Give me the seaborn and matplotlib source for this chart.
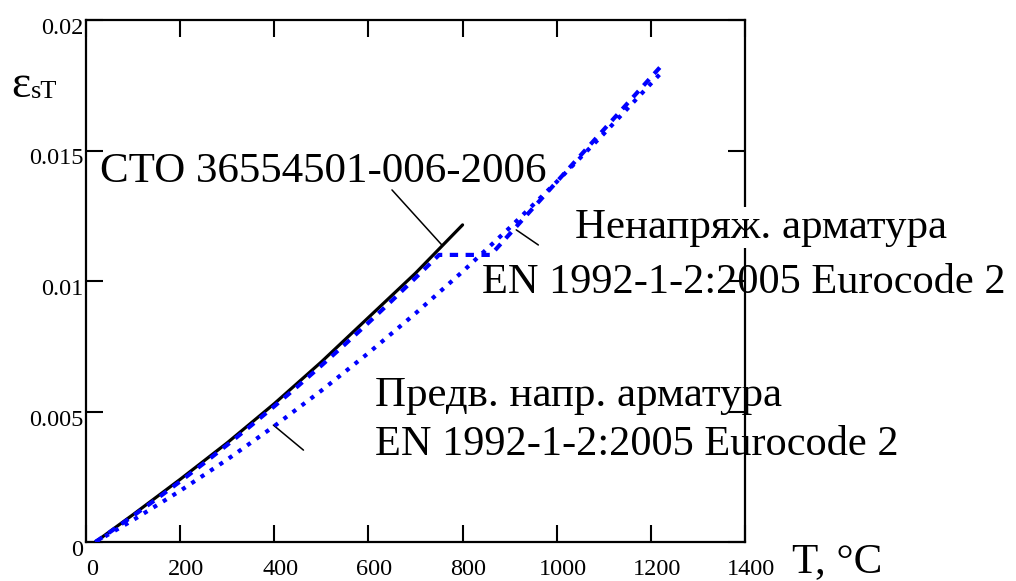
import numpy as np
import pandas as pd
import matplotlib
matplotlib.use("Agg")
import matplotlib.pyplot as plt
import matplotlib.transforms as mtransforms
import seaborn as sns

# ---------------- data ----------------
T_sto = [20, 100, 200, 300, 400, 500, 600, 700, 800]
eps_sto = [0.0, 0.00105, 0.0024, 0.0038, 0.0053, 0.0069, 0.0086, 0.0103, 0.01215]

T_reinf = [20, 50, 100, 150, 200, 250, 300, 350, 400, 450, 500, 550, 600, 650, 700,
           750, 860, 900, 1000, 1100, 1200, 1220]
eps_reinf = [0.0, 0.00037, 0.00100, 0.00165, 0.00232, 0.00301, 0.00372, 0.00445,
             0.00520, 0.00597, 0.00676, 0.00757, 0.00840, 0.00925, 0.01012,
             0.01100, 0.01100, 0.01180, 0.01380, 0.01580, 0.01780, 0.01820]

T_prest = [20, 100, 200, 300, 400, 500, 600, 700, 800, 900, 1000, 1100, 1200, 1220]
eps_prest = [0.0, 0.00084, 0.00196, 0.00316, 0.00444, 0.00580, 0.00724, 0.00876,
             0.01036, 0.01204, 0.01380, 0.01564, 0.01756, 0.01794]

x_ticks = [0, 200, 400, 600, 800, 1000, 1200, 1400]
x_tick_labels = ["0", "200", "400", "600", "800", "1000", "1200", "1400"]
y_ticks = [0, 0.005, 0.01, 0.015, 0.02]
y_tick_labels = ["0", "0.005", "0.01", "0.015", "0.02"]

label_sto = "СТО 36554501-006-2006"
label_reinf_1 = "Ненапряж. арматура"
label_reinf_2 = "EN 1992-1-2:2005 Eurocode 2"
label_prest_1 = "Предв. напр. арматура"
label_prest_2 = "EN 1992-1-2:2005 Eurocode 2"
x_label = "T, °C"

# leader lines (T, eps) pairs
lead_sto = ([650, 756], [0.01349, 0.01138])
lead_reinf = ([914, 961], [0.01196, 0.01138])
lead_prest = ([398, 462], [0.00448, 0.00352])

# ---------------- style ----------------
sns.set_style("ticks")
plt.rcParams["font.family"] = ["Liberation Serif", "DejaVu Serif"]
plt.rcParams["text.color"] = "black"
plt.rcParams["xtick.color"] = "black"
plt.rcParams["ytick.color"] = "black"

W, H = 1016, 581
fig = plt.figure(figsize=(W / 100, H / 100), dpi=100)
ax = fig.add_axes([86 / W, 1 - 542 / H, (745 - 86) / W, (542 - 20) / H])

df_sto = pd.DataFrame({"T": T_sto, "eps": eps_sto})
df_reinf = pd.DataFrame({"T": T_reinf, "eps": eps_reinf})
df_prest = pd.DataFrame({"T": T_prest, "eps": eps_prest})

sns.lineplot(data=df_sto, x="T", y="eps", ax=ax, color="black", linewidth=2.3,
             sort=False, estimator=None, zorder=3)
sns.lineplot(data=df_reinf, x="T", y="eps", ax=ax, color="#0000ff", linewidth=3.0,
             sort=False, estimator=None, dashes=False, zorder=4)
sns.lineplot(data=df_prest, x="T", y="eps", ax=ax, color="#0000ff", linewidth=3.0,
             sort=False, estimator=None, dashes=False, zorder=4)
ax.lines[1].set_dashes((2.0, 1.8))
ax.lines[2].set_dashes((1.0, 1.7))

for lx, ly in (lead_sto, lead_reinf, lead_prest):
    ax.plot(lx, ly, color="black", linewidth=1.1, zorder=2)

ax.set_xlim(0, 1400)
ax.set_ylim(0, 0.02)
ax.set_xticks(x_ticks)
ax.set_xticklabels(x_tick_labels)
ax.set_yticks(y_ticks)
ax.set_yticklabels(y_tick_labels)
ax.set_xlabel("")
ax.set_ylabel("")

for s in ax.spines.values():
    s.set_visible(True)
    s.set_linewidth(1.6)
    s.set_color("black")

ax.tick_params(axis="both", which="major", direction="in", length=12, width=1.5,
               top=True, right=True, labelsize=17.5, colors="black")
ax.tick_params(axis="x", pad=12)
ax.tick_params(axis="y", pad=2)

offx = mtransforms.ScaledTranslation(0.06, 0, fig.dpi_scale_trans)
offy = mtransforms.ScaledTranslation(0, -0.06, fig.dpi_scale_trans)
for lab in ax.get_xticklabels():
    lab.set_transform(lab.get_transform() + offx)
    lab.set_color("black")
for lab in ax.get_yticklabels():
    lab.set_transform(lab.get_transform() + offy)
    lab.set_color("black")

def ftext(x, y, s, size, **kw):
    fig.text(x / W, 1 - y / H, s, fontsize=size, ha="left", va="baseline",
             color="black", **kw)

ftext(100, 182, label_sto, 31)
ftext(575, 238, label_reinf_1, 31,
      bbox=dict(facecolor="white", edgecolor="none", pad=1))
ftext(482, 293, label_reinf_2, 30.5)
ftext(375, 406, label_prest_1, 31)
ftext(375, 455, label_prest_2, 30.5)
ftext(792, 572, x_label, 31)

# y-axis symbol ε_sT
ftext(11, 97, "ε", 33)
ftext(31, 98, "sT", 19)

fig.savefig("out.png", dpi=100, facecolor="white")
